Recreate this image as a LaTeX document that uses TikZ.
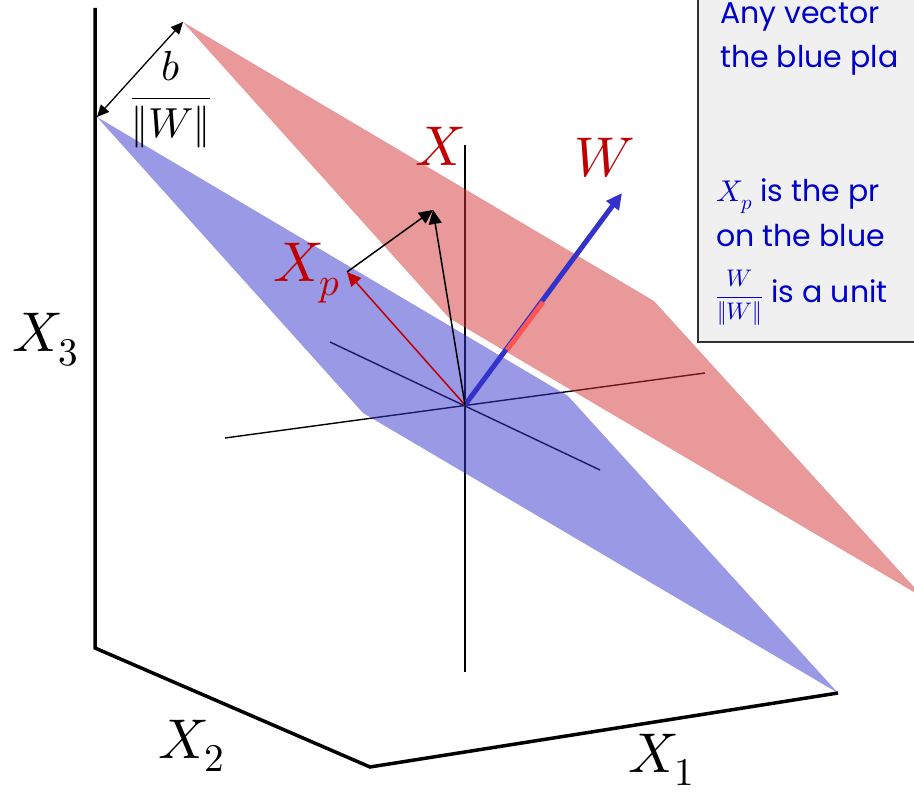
\documentclass[tikz,border=0pt]{standalone}
\usepackage{fontspec}
\usepackage{unicode-math}
\setmathfont{Latin Modern Math}
\newfontfamily\boxfont{Poppins}
\usetikzlibrary{arrows.meta}
\definecolor{planeblue}{RGB}{51,51,204}
\definecolor{planered}{RGB}{211,51,51}
\definecolor{labred}{RGB}{192,0,0}
\definecolor{wblue}{RGB}{51,51,204}
\definecolor{wred}{RGB}{255,85,85}
\definecolor{txtblue}{RGB}{0,0,204}
\definecolor{boxfill}{RGB}{240,240,240}
\definecolor{boxline}{RGB}{50,50,50}
\begin{document}
\begin{tikzpicture}[x=1pt,y=-1pt,
  thinaxis/.style={black,line width=1.4pt},
  frameaxis/.style={black,line width=3.5pt,line join=miter},
  plane/.style={opacity=0.5},
  vec/.style={line width=1.5pt,-{Triangle[length=14pt,width=13pt]}},
  biglabel/.style={inner sep=0pt,font=\fontsize{56}{60}\selectfont},
  redlabel/.style={biglabel,text=labred},
  boxtext/.style={inner sep=0pt,anchor=base west,text=txtblue,font=\boxfont\fontsize{30}{33}\selectfont}]
\useasboundingbox (0,0) rectangle (914,794);

% named points
\coordinate (O) at (465,405);
\coordinate (B1) at (97,117);
\coordinate (B2) at (363,413);
\coordinate (B3) at (838,693);
\coordinate (B4) at (568,396);
\coordinate (R1) at (183,22);
\coordinate (R2) at (449,318);
\coordinate (R3) at (924,598);
\coordinate (R4) at (654,301);
\coordinate (Vt) at (465,145);
\coordinate (Vb) at (465,672);
\coordinate (Hl) at (225,438);
\coordinate (Hr) at (705,373);
\coordinate (Dl) at (330,342);
\coordinate (Dr) at (600,470);
\coordinate (Atop) at (95,8);
\coordinate (Acorner) at (95,648);
\coordinate (Abottom) at (370,767);
\coordinate (Wtip) at (622,193);
\coordinate (Wr1) at (507,350);
\coordinate (Wr2) at (543,302);
\coordinate (Xtip) at (433,210);
\coordinate (Xp) at (347,272);

% centre axes (under the planes)
\draw[thinaxis] (Vt) -- (Vb);
\draw[thinaxis] (Hl) -- (Hr);
\draw[thinaxis] (Dl) -- (Dr);

% planes
\fill[planeblue,plane] (B1) -- (B2) -- (B3) -- (B4) -- cycle;
\fill[planered,plane] (R1) -- (R2) -- (R3) -- (R4) -- cycle;

% frame axes
\draw[frameaxis] (Atop) -- (Acorner) -- (Abottom) -- (B3);

% offset arrow b/||W||
\draw[line width=1.3pt,{Triangle[length=12pt,width=11pt]}-{Triangle[length=12pt,width=11pt]}] (B1) -- (R1);
\node[inner sep=0pt,font=\fontsize{42}{44}\selectfont] (bw) at (171,100) {$\displaystyle\frac{b}{\|W\|}$};

% vectors
\draw[wblue,line width=5pt,-{Triangle[length=16pt,width=15pt]}] (O) -- (Wtip);
\draw[wred,line width=5pt] (Wr1) -- (Wr2);
\draw[labred,vec] (O) -- (Xp);
\draw[black,vec] (O) -- (Xtip);
\draw[black,vec] (Xp) -- (Xtip);

% labels
\node[redlabel] (lX) at (440,146) {$X$};
\node[redlabel] (lW) at (605,158) {$W$};
\node[redlabel,anchor=base west] (lXp) at (273,282) {$X_{p}$};
\node[biglabel,anchor=base west] (lX3) at (12,352) {$X_3$};
\node[biglabel,anchor=base west] (lX2) at (158,758) {$X_2$};
\node[biglabel,anchor=base west] (lX1) at (628,772) {$X_1$};

% text box
\draw[boxline,line width=2pt,fill=boxfill] (698,-10) rectangle (930,342);
\begin{scope}
\clip (698,-10) rectangle (914,794);
\node[boxtext] (t1) at (720,24) {Any vector};
\node[boxtext] (t2) at (720,68) {the blue pla};
\node[boxtext] (t3) at (716,202) {$X_p$ is the pr};
\node[boxtext] (t4) at (716,247) {on the blue};
\node[boxtext] (t5) at (716,303) {{\fontsize{24}{26}\selectfont$\displaystyle\frac{W}{\|W\|}$} is a unit};
\end{scope}
\end{tikzpicture}
\end{document}
